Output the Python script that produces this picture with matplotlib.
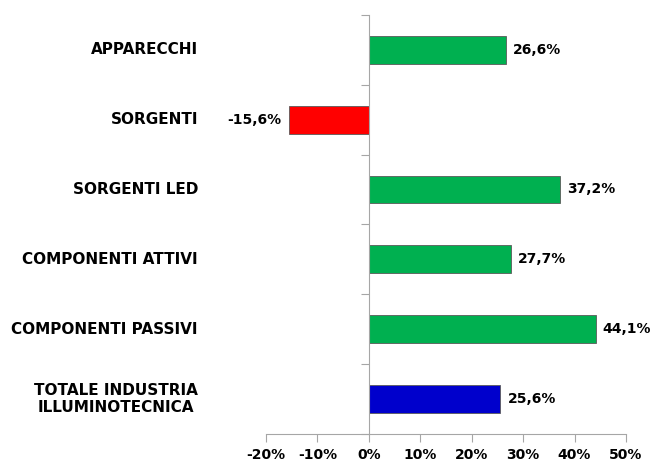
import numpy as np
import matplotlib.pyplot as plt
from matplotlib.ticker import FixedLocator, FuncFormatter
import matplotlib.transforms as mtransforms

## data
categories = ['APPARECCHI', 'SORGENTI', 'SORGENTI LED', 'COMPONENTI ATTIVI',
              'COMPONENTI PASSIVI', 'TOTALE INDUSTRIA\nILLUMINOTECNICA']
values     = [26.6, -15.6, 37.2, 27.7, 44.1, 25.6]
colors     = ['#00B050', '#FF0000', '#00B050', '#00B050', '#00B050', '#0000CC']
xticks     = [-20, -10, 0, 10, 20, 30, 40, 50]

## figure
fig = plt.figure(figsize=(6.52, 4.67), dpi=100)
ax  = fig.add_axes([0.408, 0.071, 0.552, 0.897])

y = np.arange(len(categories))
bars = ax.barh(y, values, height=0.4, color=colors, edgecolor='#5a5a5a', linewidth=0.6, zorder=3)

ax.set_xlim(-20, 50)
ax.set_ylim(len(categories) - 0.5, -0.5)

## axes styling
axis_color = '#a6a6a6'
for s in ['top', 'right']:
    ax.spines[s].set_visible(False)
ax.spines['left'].set_position(('data', 0))
ax.spines['left'].set_color(axis_color)
ax.spines['bottom'].set_color(axis_color)
ax.spines['left'].set_zorder(4)

ax.set_xticks(xticks)
ax.xaxis.set_major_formatter(FuncFormatter(lambda v, p: f"{v:.0f}%"))
ax.tick_params(axis='x', direction='out', length=6, color=axis_color, pad=4)
for lab in ax.get_xticklabels():
    lab.set_fontsize(10)
    lab.set_fontweight('bold')

ax.yaxis.set_major_locator(FixedLocator(np.arange(-0.5, len(categories), 1.0)))
ax.yaxis.set_major_formatter(FuncFormatter(lambda v, p: ''))
ax.tick_params(axis='y', direction='out', length=6, color=axis_color)

## category labels
trans = mtransforms.blended_transform_factory(ax.transAxes, ax.transData)
for i, c in enumerate(categories):
    ax.text(-0.189, i, c, transform=trans, ha='right', va='center', multialignment='center',
            fontsize=11, fontweight='bold', color='black')

## value labels
for i, v in enumerate(values):
    txt = f"{v:.1f}%".replace('.', ',')
    if v >= 0:
        ax.annotate(txt, (v, i), xytext=(5, 0), textcoords='offset points', ha='left', va='center',
                    fontsize=10, fontweight='bold')
    else:
        ax.annotate(txt, (v, i), xytext=(-5, 0), textcoords='offset points', ha='right', va='center',
                    fontsize=10, fontweight='bold')

plt.savefig('out.png', dpi=100)
plt.close(fig)
